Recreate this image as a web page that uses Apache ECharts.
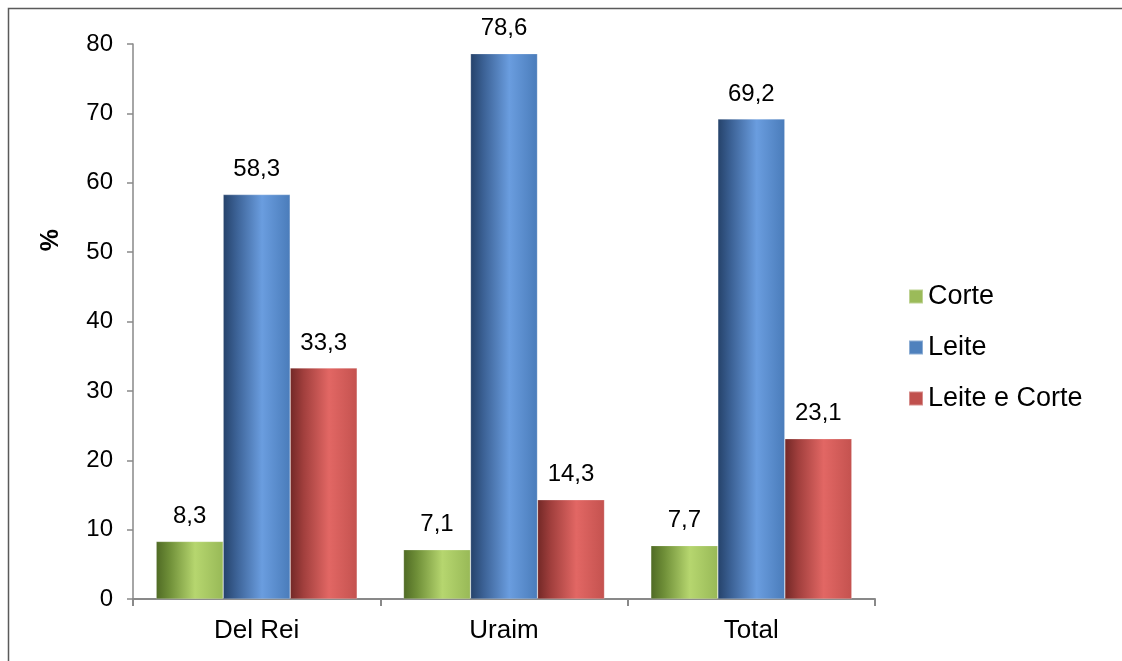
<!DOCTYPE html>
<html>
<head>
<meta charset="utf-8">
<script src="https://cdn.jsdelivr.net/npm/echarts@6/dist/echarts.min.js"></script>
<style>
  html, body { margin: 0; padding: 0; background: #fff; }
  #chart { width: 1122px; height: 661px; }
</style>
</head>
<body>
<div id="chart"></div>
<script>
// Categories and percentages per type of herd
const categories = ['Del Rei', 'Uraim', 'Total'];
const corte = [8.3, 7.1, 7.7];
const leite = [58.3, 78.6, 69.2];
const leiteECorte = [33.3, 14.3, 23.1];
const yTicks = [0, 10, 20, 30, 40, 50, 60, 70, 80];

const FONT = '"Liberation Sans", Arial, sans-serif';

// Cylinder-like horizontal shading for each bar colour
function shade(dark, mid, light, edge) {
  return new echarts.graphic.LinearGradient(0, 0, 1, 0, [
    { offset: 0, color: dark },
    { offset: 0.2, color: mid },
    { offset: 0.58, color: light },
    { offset: 1, color: edge }
  ]);
}

const fmt = p => String(p.value.toFixed(1)).replace('.', ',');

function barSeries(name, data, fill) {
  return {
    name: name,
    type: 'bar',
    data: data,
    barWidth: 67,
    barGap: '0%',
    itemStyle: { color: fill, borderColor: 'rgba(255,255,255,0.35)', borderWidth: 0.6 },
    label: {
      show: true,
      position: 'top',
      distance: 13,
      formatter: fmt,
      color: '#000',
      fontFamily: FONT,
      fontSize: 24
    },
    emphasis: { disabled: true }
  };
}

const chart = echarts.init(document.getElementById('chart'), null, { renderer: 'canvas' });

chart.setOption({
  animation: false,
  backgroundColor: '#fff',
  grid: { left: 133, right: 247, top: 44, bottom: 62 },
  graphic: [{
    type: 'rect',
    shape: { x: 8.5, y: 8.5, width: 1300, height: 900 },
    style: { fill: 'none', stroke: '#5a5a5a', lineWidth: 1.5 },
    silent: true
  }, {
    type: 'text',
    left: 39,
    top: 229,
    rotation: Math.PI / 2,
    style: { text: '%', font: 'bold 25px ' + FONT, fill: '#000' },
    silent: true
  }],
  legend: {
    orient: 'vertical',
    left: 908,
    top: 282,
    padding: 0,
    itemWidth: 14,
    itemHeight: 14,
    itemGap: 22,
    icon: 'rect',
    textStyle: { fontFamily: FONT, fontSize: 27, color: '#000', lineHeight: 29 },
    data: [
      { name: 'Corte', itemStyle: { color: '#9bbb59' } },
      { name: 'Leite', itemStyle: { color: '#4f81bd' } },
      { name: 'Leite e Corte', itemStyle: { color: '#c0504d' } }
    ],
    selectedMode: false
  },
  xAxis: {
    type: 'category',
    data: categories,
    axisLine: { lineStyle: { color: '#898989', width: 2 } },
    axisTick: { show: true, length: 7, lineStyle: { color: '#898989', width: 2 } },
    axisLabel: { color: '#000', fontFamily: FONT, fontSize: 26, margin: 19 }
  },
  yAxis: {
    type: 'value',
    min: yTicks[0],
    max: yTicks[yTicks.length - 1],
    interval: 10,
    axisLine: { show: true, lineStyle: { color: '#898989', width: 1.5 } },
    axisTick: { show: true, length: 6, lineStyle: { color: '#898989', width: 1.5 } },
    axisLabel: { color: '#000', fontFamily: FONT, fontSize: 24, margin: 20 },
    splitLine: { show: false }
  },
  series: [
    barSeries('Corte', corte, shade('#4f6a24', '#6f8f38', '#b6d66f', '#98b957')),
    barSeries('Leite', leite, shade('#25426a', '#3c6296', '#6a9ddf', '#4a7cba')),
    barSeries('Leite e Corte', leiteECorte, shade('#722826', '#a13f3d', '#e26764', '#c4524f'))
  ]
});
</script>
</body>
</html>
